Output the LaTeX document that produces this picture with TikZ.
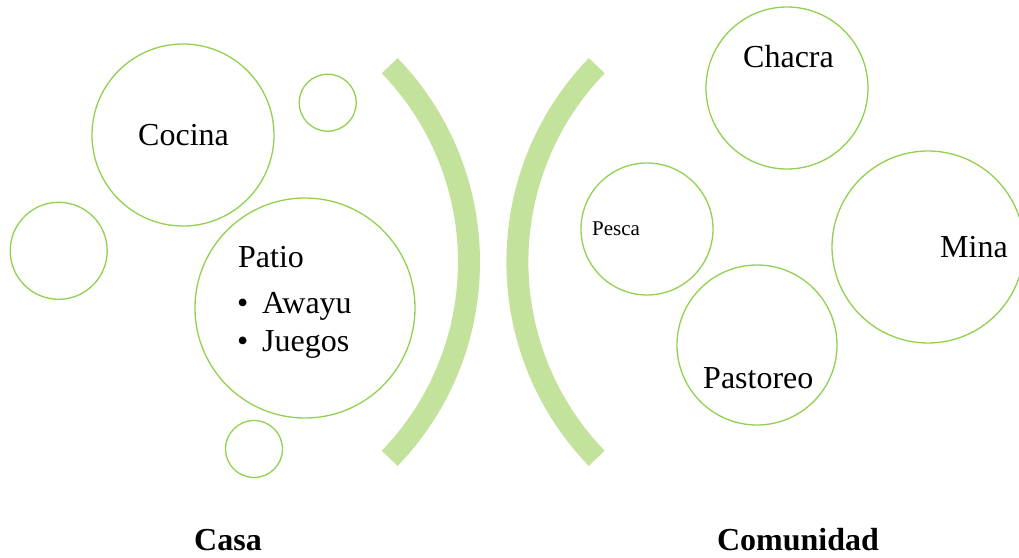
\documentclass[tikz,border=0pt]{standalone}
\usepackage{fontspec}
\setmainfont{Liberation Serif}
\definecolor{ringgreen}{RGB}{146,208,80}
\definecolor{arcgreen}{RGB}{195,226,155}
\begin{document}
\begin{tikzpicture}[x=1pt,y=-1pt,
  ring/.style={circle, draw=ringgreen, line width=1.3pt, inner sep=0pt, outer sep=0pt},
  lbl/.style={inner sep=0pt, anchor=base west, font=\fontsize{32}{38}\selectfont},
  smalllbl/.style={inner sep=0pt, anchor=base west, font=\fontsize{21}{25}\selectfont},
  title/.style={inner sep=0pt, anchor=base, font=\fontsize{32}{38}\selectfont\bfseries},
  bracket/.style={draw=arcgreen, line width=22pt, line cap=butt}]
\useasboundingbox (0,0) rectangle (1019,557);
% left group circles
\node[ring, minimum size=182pt] (cocina) at (183,135) {};
\node[ring, minimum size=57pt] (smalltop) at (327.7,102.7) {};
\node[ring, minimum size=97pt] (leftc) at (58.7,250.8) {};
\node[ring, minimum size=220pt] (patio) at (305,308) {};
\node[ring, minimum size=57pt] (smallbot) at (254,449) {};
% right group circles
\node[ring, minimum size=162pt] (chacra) at (787,88) {};
\node[ring, minimum size=132pt] (pesca) at (647,229) {};
\node[ring, minimum size=192pt] (mina) at (928,247) {};
\node[ring, minimum size=160pt] (pastoreo) at (757,345) {};
% brackets
\draw[bracket] (186.4,262) ++(44:282.6pt) arc[start angle=44, end angle=-44, radius=282.6pt];
\draw[bracket] (800,262) ++(136:282.6pt) arc[start angle=136, end angle=224, radius=282.6pt];
% texts
\node[lbl] (tcocina) at (138,145) {Cocina};
\node[lbl] (tpatio) at (238,267) {Patio};
\node[lbl] (bul1) at (237,313) {\textbullet};
\node[lbl] (tawayu) at (262,313) {Awayu};
\node[lbl] (bul2) at (237,351) {\textbullet};
\node[lbl] (tjuegos) at (262,351) {Juegos};
\node[lbl] (tchacra) at (743,67) {Chacra};
\node[smalllbl] (tpesca) at (592,235) {Pesca};
\node[lbl] (tmina) at (940,257) {Mina};
\node[lbl] (tpastoreo) at (703,388) {Pastoreo};
\node[title] (casa) at (228,550) {Casa};
\node[title] (comunidad) at (798,550) {Comunidad};
\end{tikzpicture}
\end{document}
